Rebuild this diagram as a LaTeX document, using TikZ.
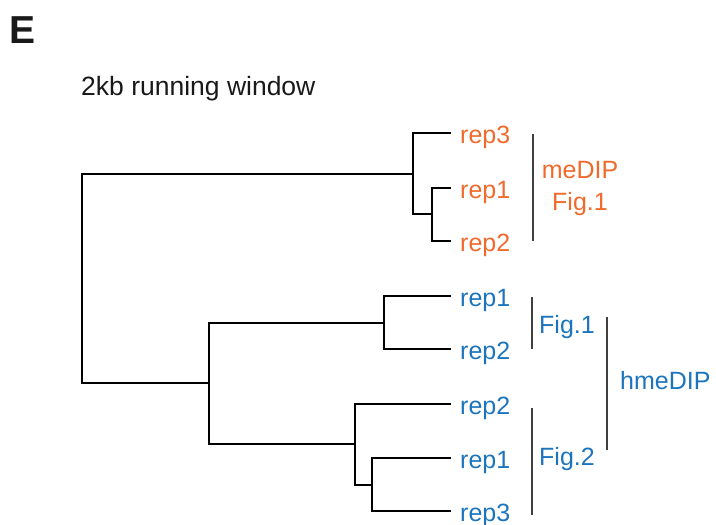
\documentclass[tikz,border=0pt]{standalone}
\usepackage{fontspec}
\setmainfont{Liberation Sans}
\definecolor{orng}{RGB}{240,106,44}
\definecolor{blu}{RGB}{28,117,188}
\definecolor{bargray}{RGB}{64,64,64}
\begin{document}
\begin{tikzpicture}[x=1pt,y=-1pt,
  tree/.style={line width=2.6pt, black, line join=miter, line cap=rect},
  grpbar/.style={line width=2.5pt, bargray},
  lbl/.style={inner sep=0pt, anchor=base west, font=\fontsize{25}{30}\selectfont},
  olbl/.style={lbl, text=orng},
  blbl/.style={lbl, text=blu}]
\useasboundingbox (0,0) rectangle (716,525);
% title
\node[inner sep=0pt, anchor=base west, font=\fontsize{39}{44}\selectfont\bfseries, text=black!90] (E) at (9,43) {E};
\node[inner sep=0pt, anchor=base west, font=\fontsize{26.5}{30}\selectfont, text=black!90] (title) at (81,95) {2kb running window};
% leaf ends
\coordinate (l1) at (450,133);
\coordinate (l2) at (450,188);
\coordinate (l3) at (450,241);
\coordinate (l4) at (450,296);
\coordinate (l5) at (450,349);
\coordinate (l6) at (450,404);
\coordinate (l7) at (450,458);
\coordinate (l8) at (450,511);
% internal nodes
\coordinate (oin) at (432,214);
\coordinate (onode) at (413,174);
\coordinate (bup) at (384,323);
\coordinate (blin) at (372,485);
\coordinate (blow) at (355,444);
\coordinate (bnode) at (209,383);
\coordinate (root) at (82,278);
% leaf labels
\node[olbl] (t1) at (460,143) {rep3};
\node[olbl] (t2) at (460,198) {rep1};
\node[olbl] (t3) at (460,251) {rep2};
\node[blbl] (t4) at (460,306) {rep1};
\node[blbl] (t5) at (460,359) {rep2};
\node[blbl] (t6) at (460,414) {rep2};
\node[blbl] (t7) at (460,468) {rep1};
\node[blbl] (t8) at (460,521) {rep3};
% tree
\draw[tree] (l2) -| (oin) |- (l3);
\draw[tree] (l1) -| (onode) |- (oin);
\draw[tree] (l4) -| (bup) |- (l5);
\draw[tree] (l7) -| (blin) |- (l8);
\draw[tree] (l6) -| (blow) |- (blin);
\draw[tree] (bup) -| (bnode) |- (blow);
\draw[tree] (onode) -| (root) |- (bnode);
% group bars
\coordinate (ob1) at (533,134); \coordinate (ob2) at (533,241);
\coordinate (f1a) at (532,297); \coordinate (f1b) at (532,349);
\coordinate (f2a) at (532,408); \coordinate (f2b) at (532,515);
\coordinate (ha) at (607,317); \coordinate (hb) at (607,450);
\draw[grpbar] (ob1) -- (ob2);
\draw[grpbar] (f1a) -- (f1b);
\draw[grpbar] (f2a) -- (f2b);
\draw[grpbar] (ha) -- (hb);
% group labels
\node[olbl, anchor=base] (me) at (580,178) {meDIP};
\node[olbl, anchor=base] (mef) at (580,210) {Fig.1};
\node[blbl] (bf1) at (539,333) {Fig.1};
\node[blbl] (bf2) at (539,465) {Fig.2};
\node[blbl] (hme) at (620,389) {hmeDIP};
\end{tikzpicture}
\end{document}
